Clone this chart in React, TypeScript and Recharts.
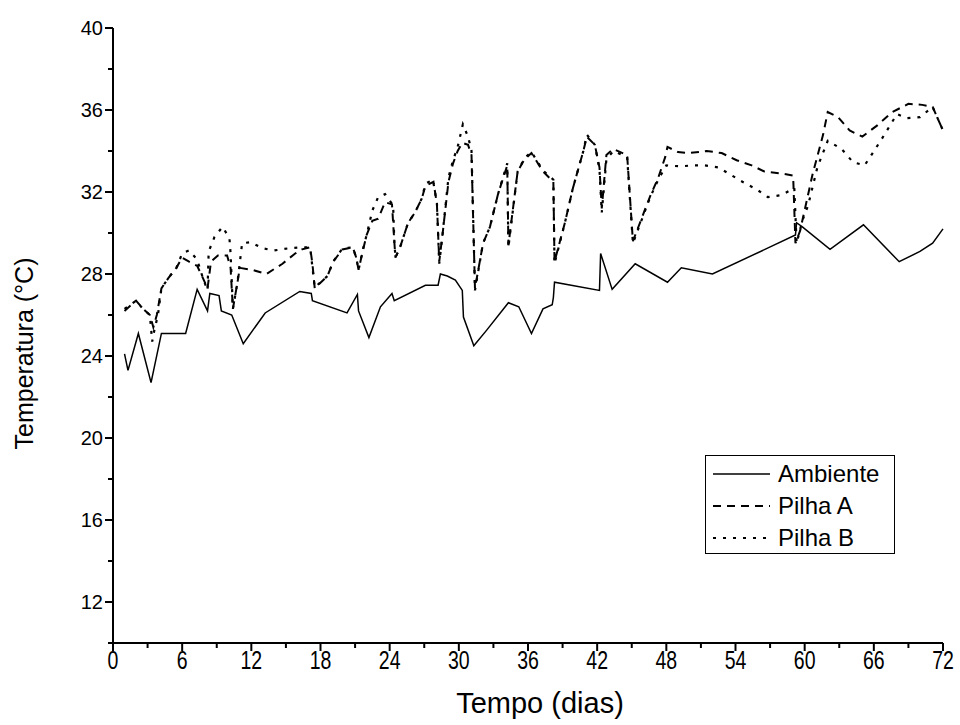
import { LineChart, Line, XAxis, YAxis, Legend } from "recharts";

// Temperatura ambiente
const ambienteDias = [1, 1.3, 2.2, 3.3, 4.2, 6.3, 7.3, 8.2, 8.4, 9.2, 9.4, 10.3, 11.3, 13.2, 16.2, 17.2, 17.3, 20.3, 21.2, 21.3, 22.2, 23.2, 24.2, 24.4, 27.1, 28.2, 28.4, 29.0, 29.7, 30.3, 30.4, 31.3, 32.4, 34.3, 35.2, 36.3, 37.3, 38.1, 38.2, 38.3, 42.2, 42.3, 43.3, 45.3, 48.1, 49.3, 52.0, 59.2, 59.3, 59.8, 62.2, 65.1, 68.2, 70.0, 71.1, 72];
const ambienteTemp = [24.1, 23.3, 25.1, 22.7, 25.1, 25.1, 27.25, 26.2, 27.05, 26.95, 26.2, 26.0, 24.6, 26.1, 27.15, 27.05, 26.7, 26.1, 27.0, 26.2, 24.9, 26.4, 27.05, 26.7, 27.45, 27.45, 28.0, 27.9, 27.7, 27.2, 25.9, 24.5, 25.25, 26.6, 26.4, 25.1, 26.3, 26.5, 26.85, 27.6, 27.2, 29.0, 27.25, 28.5, 27.6, 28.3, 28.0, 29.9, 30.5, 30.3, 29.2, 30.4, 28.6, 29.1, 29.5, 30.2];

// Pilha A
const pilhaADias = [1.0, 2.0, 2.6, 3.2, 3.5, 3.8, 4.2, 4.8, 5.5, 6.0, 6.6, 7.3, 7.8, 8.2, 8.5, 9.1, 9.9, 10.2, 10.4, 10.8, 11.0, 12.1, 13.3, 14.7, 15.8, 16.4, 17.1, 17.3, 17.5, 18.6, 19.1, 19.9, 20.8, 21.1, 21.3, 21.7, 22.0, 22.5, 23.0, 23.6, 24.2, 24.4, 24.5, 24.9, 25.6, 26.2, 26.8, 27.1, 27.8, 28.1, 28.3, 28.6, 29.1, 29.5, 29.9, 30.3, 30.8, 31.1, 31.4, 32.1, 32.7, 33.4, 34.2, 34.3, 35.1, 35.7, 36.3, 37.3, 38.2, 38.3, 39.2, 39.9, 40.8, 41.1, 41.8, 42.2, 42.4, 42.8, 43.4, 44.6, 45.1, 46.6, 47.3, 47.9, 48.1, 49.0, 50.0, 51.5, 52.8, 54.1, 55.4, 56.5, 58.0, 59.0, 59.2, 59.6, 60.7, 61.6, 62.0, 62.9, 63.9, 65.0, 66.3, 67.6, 69.0, 70.2, 71.1, 72.0];
const pilhaATemp = [26.2, 26.7, 26.3, 26.0, 25.4, 26.0, 27.3, 27.8, 28.3, 28.8, 28.6, 28.4, 27.8, 27.3, 28.6, 28.9, 28.9, 28.3, 26.3, 27.6, 28.3, 28.2, 28.0, 28.5, 29.0, 29.2, 29.3, 28.5, 27.3, 27.9, 28.6, 29.2, 29.3, 28.8, 28.2, 29.2, 29.9, 30.6, 30.7, 31.5, 31.4, 29.6, 28.8, 29.3, 30.5, 31.0, 31.7, 32.3, 32.5, 31.4, 28.6, 30.0, 32.5, 33.4, 34.0, 34.4, 34.3, 33.8, 27.3, 29.5, 30.3, 31.9, 33.3, 29.4, 33.0, 33.6, 33.9, 33.0, 32.5, 28.6, 30.5, 32.2, 34.0, 34.7, 34.3, 33.2, 31.2, 33.8, 34.1, 33.8, 29.6, 31.8, 32.7, 33.7, 34.2, 33.95, 33.9, 34.0, 33.9, 33.55, 33.3, 33.0, 32.9, 32.8, 29.5, 30.1, 32.9, 34.8, 35.9, 35.65, 35.0, 34.7, 35.25, 35.9, 36.3, 36.25, 36.15, 35.0];

// Pilha B
const pilhaBDias = [1.0, 2.0, 2.6, 3.2, 3.4, 3.6, 3.9, 4.2, 4.8, 5.5, 6.0, 6.6, 7.3, 7.8, 8.2, 8.3, 8.8, 9.5, 10.1, 10.2, 10.4, 10.8, 11.2, 11.9, 13.0, 14.0, 15.2, 16.4, 17.1, 17.5, 18.6, 19.1, 19.9, 20.8, 21.1, 21.3, 21.7, 22.0, 22.5, 23.0, 23.6, 24.3, 24.4, 24.5, 24.9, 25.6, 26.2, 26.8, 27.1, 27.75, 28.1, 28.3, 28.6, 29.1, 29.5, 29.9, 30.35, 30.8, 31.1, 31.4, 32.1, 32.7, 33.4, 34.2, 34.3, 35.1, 35.7, 36.3, 37.3, 38.2, 38.3, 39.2, 39.9, 40.8, 41.1, 41.8, 42.2, 42.4, 42.8, 43.4, 44.6, 45.1, 46.6, 47.3, 48.0, 49.2, 50.3, 51.3, 52.5, 53.7, 54.6, 55.9, 56.8, 58.0, 59.1, 59.3, 59.8, 60.3, 61.1, 62.0, 63.2, 64.2, 65.2, 65.9, 66.7, 67.3, 68.0, 68.9, 70.0, 71.1, 72.0];
const pilhaBTemp = [26.3, 26.7, 26.3, 26.0, 24.7, 25.3, 26.0, 27.3, 27.8, 28.3, 29.0, 29.15, 28.7, 27.8, 27.2, 29.1, 29.8, 30.3, 29.75, 29.0, 26.3, 27.6, 29.5, 29.55, 29.25, 29.15, 29.25, 29.3, 29.3, 27.35, 27.9, 28.6, 29.25, 29.3, 28.8, 28.2, 29.25, 29.9, 31.1, 31.75, 31.9, 31.35, 29.65, 28.8, 29.3, 30.5, 31.0, 31.7, 32.4, 32.6, 31.45, 28.5, 30.0, 32.7, 33.55, 34.2, 35.3, 34.7, 34.0, 27.2, 29.5, 30.3, 31.9, 33.4, 29.3, 33.0, 33.65, 33.95, 33.05, 32.6, 28.5, 30.5, 32.2, 34.0, 34.8, 34.3, 33.1, 31.0, 33.6, 34.0, 33.7, 29.5, 31.75, 32.6, 33.3, 33.25, 33.3, 33.3, 33.2, 32.8, 32.5, 32.1, 31.75, 31.85, 32.2, 29.5, 30.6, 31.35, 33.2, 34.5, 34.1, 33.45, 33.3, 33.9, 34.6, 35.15, 35.8, 35.6, 35.65, 36.15, 35.0];

const xTicks = [0, 3, 6, 9, 12, 15, 18, 21, 24, 27, 30, 33, 36, 39, 42, 45, 48, 51, 54, 57, 60, 63, 66, 69, 72];
const yTicks = [10, 12, 14, 16, 18, 20, 22, 24, 26, 28, 30, 32, 34, 36, 38, 40];

const toPoints = (dias: number[], temps: number[]) =>
  dias.map((dia, i) => ({ dia, temp: temps[i] }));

const series = [
  { name: "Ambiente", data: toPoints(ambienteDias, ambienteTemp), dash: undefined, width: 1.5 },
  { name: "Pilha A", data: toPoints(pilhaADias, pilhaATemp), dash: "8 6", width: 2 },
  { name: "Pilha B", data: toPoints(pilhaBDias, pilhaBTemp), dash: "3 7", width: 2.2 },
];

const sans = "'Liberation Sans', Arial, sans-serif";

const XTick = ({ x, y, payload }: any) => {
  const major = payload.value % 6 === 0;
  return (
    <g>
      <line x1={x} y1={y} x2={x} y2={y + (major ? 8 : 5)} stroke="#000" strokeWidth={2} />
      {major && (
        <text
          transform={`translate(${x} ${y + 26}) scale(0.78 1)`}
          textAnchor="middle"
          fontFamily={sans}
          fontSize={25}
          fill="#000"
        >
          {payload.value}
        </text>
      )}
    </g>
  );
};

const YTick = ({ x, y, payload }: any) => {
  const major = payload.value % 4 === 0;
  return (
    <g>
      <line x1={x} y1={y} x2={x - (major ? 8 : 5)} y2={y} stroke="#000" strokeWidth={2} />
      {major && (
        <text x={x - 10} y={y} dy="0.36em" textAnchor="end" fontFamily={sans} fontSize={20} fill="#000">
          {payload.value}
        </text>
      )}
    </g>
  );
};

const renderLegend = () => (
  <div
    style={{
      border: "1.5px solid #000",
      width: 190,
      height: 99,
      boxSizing: "border-box",
      paddingTop: 2,
      background: "#fff",
    }}
  >
    {series.map((s) => (
      <div key={s.name} style={{ display: "flex", alignItems: "center", height: 32 }}>
        <svg width={68} height={10} style={{ marginLeft: 4 }}>
          <line x1={3} y1={5} x2={60} y2={5} stroke="#000" strokeWidth={s.width} strokeDasharray={s.dash} />
        </svg>
        <span style={{ fontFamily: sans, fontSize: 24, color: "#000", lineHeight: "24px" }}>{s.name}</span>
      </div>
    ))}
  </div>
);

export default function App() {
  return (
    <div style={{ position: "absolute", left: 0, top: 0, background: "#fff" }}>
      <LineChart width={960} height={725} margin={{ top: 28, right: 17, bottom: 0, left: 0 }}>
        <XAxis
          dataKey="dia"
          type="number"
          domain={[0, 72]}
          ticks={xTicks}
          interval={0}
          allowDuplicatedCategory={false}
          height={82}
          tickSize={0}
          tickMargin={0}
          tick={<XTick />}
          axisLine={{ stroke: "#000", strokeWidth: 2 }}
          label={{
            content: ({ viewBox }: any) => {
              const cx = viewBox.x + viewBox.width / 2 + 12;
              const by = viewBox.y + 70;
              return (
                <text x={cx} y={by} textAnchor="middle" fontFamily={sans} fontSize={29} fill="#000">
                  Tempo (dias)
                </text>
              );
            },
          }}
        />
        <YAxis
          type="number"
          domain={[10, 40]}
          ticks={yTicks}
          interval={0}
          width={113}
          tickSize={0}
          tickMargin={0}
          tick={<YTick />}
          axisLine={{ stroke: "#000", strokeWidth: 2 }}
          label={{
            content: ({ viewBox }: any) => {
              const cx = viewBox.x + 24;
              const cy = viewBox.y + viewBox.height / 2 + 18;
              return (
                <text
                  x={cx}
                  y={cy}
                  transform={`rotate(-90 ${cx} ${cy})`}
                  textAnchor="middle"
                  dominantBaseline="central"
                  fontFamily={sans}
                  fontSize={25}
                  fill="#000"
                >
                  Temperatura (°C)
                </text>
              );
            },
          }}
        />
        <Legend
          layout="vertical"
          align="center"
          verticalAlign="middle"
          content={renderLegend}
          wrapperStyle={{ position: "absolute", left: 705, top: 455, width: 190, height: 99 }}
        />
        {series.map((s) => (
          <Line
            key={s.name}
            name={s.name}
            data={s.data}
            dataKey="temp"
            type="linear"
            stroke="#000"
            strokeWidth={s.width}
            strokeDasharray={s.dash}
            dot={false}
            activeDot={false}
            isAnimationActive={false}
          />
        ))}
      </LineChart>
    </div>
  );
}
